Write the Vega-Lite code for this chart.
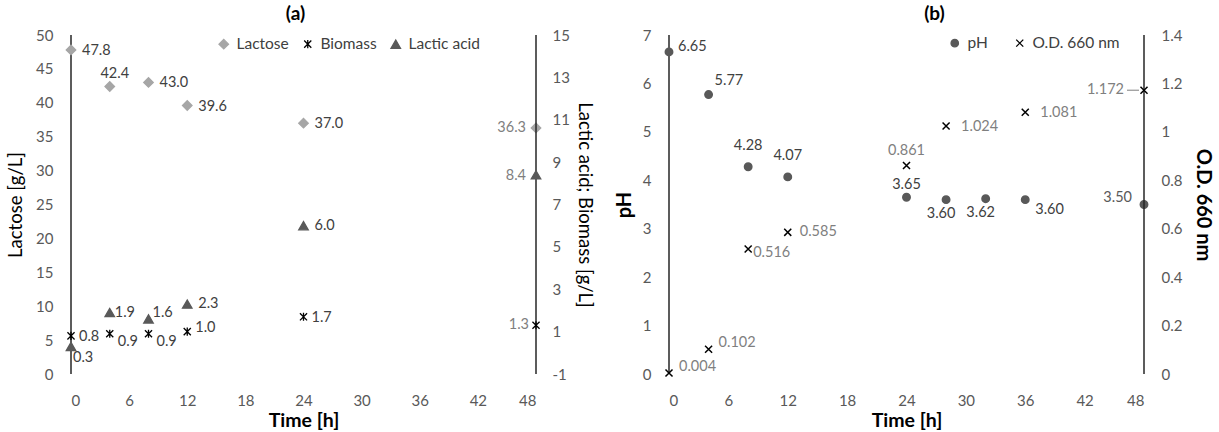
{
  "$schema": "https://vega.github.io/schema/vega-lite/v6.json",
  "background": "white",
  "padding": {"left": 6, "top": 5, "right": 5, "bottom": 2},
  "spacing": 20,
  "config": {
    "font": "Lato",
    "view": {"stroke": null},
    "axis": {"grid": false, "domain": false, "ticks": true, "tickOpacity": 0, "tickSize": 5, "labelFont": "Lato", "labelFontSize": 15, "labelColor": "#595959", "titleFont": "Lato", "titleFontSize": 20, "titleFontWeight": "bold", "titleColor": "#000000"},
    "axisX": {"labelPadding": 14, "titlePadding": 3, "titleFontSize": 19.5},
    "legend": {"labelFont": "Lato", "labelFontSize": 15.5, "labelColor": "#404040", "symbolStrokeWidth": 1.3, "padding": 0, "labelOffset": 5},
    "text": {"font": "Lato", "fontSize": 14.5, "color": "#404040"},
    "rule": {"color": "#262626", "strokeWidth": 1.5},
    "title": {"font": "Lato", "fontSize": 19, "fontWeight": "bold", "color": "#000000", "offset": 4}
  },
  "datasets": {
    "a": [
      {"time": 0, "series": "Lactose", "value": 47.8},
      {"time": 4, "series": "Lactose", "value": 42.4},
      {"time": 8, "series": "Lactose", "value": 43.0},
      {"time": 12, "series": "Lactose", "value": 39.6},
      {"time": 24, "series": "Lactose", "value": 37.0},
      {"time": 48, "series": "Lactose", "value": 36.3},
      {"time": 0, "series": "Biomass", "value": 0.8},
      {"time": 4, "series": "Biomass", "value": 0.9},
      {"time": 8, "series": "Biomass", "value": 0.9},
      {"time": 12, "series": "Biomass", "value": 1.0},
      {"time": 24, "series": "Biomass", "value": 1.7},
      {"time": 48, "series": "Biomass", "value": 1.3},
      {"time": 0, "series": "Lactic acid", "value": 0.3},
      {"time": 4, "series": "Lactic acid", "value": 1.9},
      {"time": 8, "series": "Lactic acid", "value": 1.6},
      {"time": 12, "series": "Lactic acid", "value": 2.3},
      {"time": 24, "series": "Lactic acid", "value": 6.0},
      {"time": 48, "series": "Lactic acid", "value": 8.4}
    ],
    "b": [
      {"time": 0, "series": "pH", "value": 6.65},
      {"time": 4, "series": "pH", "value": 5.77},
      {"time": 8, "series": "pH", "value": 4.28},
      {"time": 12, "series": "pH", "value": 4.07},
      {"time": 24, "series": "pH", "value": 3.65},
      {"time": 28, "series": "pH", "value": 3.60},
      {"time": 32, "series": "pH", "value": 3.62},
      {"time": 36, "series": "pH", "value": 3.60},
      {"time": 48, "series": "pH", "value": 3.50},
      {"time": 0, "series": "O.D. 660 nm", "value": 0.004},
      {"time": 4, "series": "O.D. 660 nm", "value": 0.102},
      {"time": 8, "series": "O.D. 660 nm", "value": 0.516},
      {"time": 12, "series": "O.D. 660 nm", "value": 0.585},
      {"time": 24, "series": "O.D. 660 nm", "value": 0.861},
      {"time": 28, "series": "O.D. 660 nm", "value": 1.024},
      {"time": 36, "series": "O.D. 660 nm", "value": 1.081},
      {"time": 48, "series": "O.D. 660 nm", "value": 1.172}
    ]
  },
  "resolve": {"scale": {"color": "independent", "stroke": "independent", "shape": "independent"}},
  "hconcat": [
    {
      "width": 465,
      "height": 339,
      "data": {"name": "a"},
      "title": {"text": "(a)", "dx": -8},
      "encoding": {
        "x": {"field": "time", "type": "quantitative", "scale": {"domain": [0, 48], "nice": false}, "axis": {"values": [0, 6, 12, 18, 24, 30, 36, 42, 48], "title": "Time [h]"}}
      },
      "layer": [
        {
          "encoding": {
            "y": {"field": "value", "type": "quantitative", "scale": {"domain": [0, 50], "nice": false, "zero": false}, "axis": {"orient": "left", "values": [0, 5, 10, 15, 20, 25, 30, 35, 40, 45, 50], "title": "Lactose [g/L]", "titleFontWeight": "normal", "titleFontSize": 18.5, "labelPadding": 13, "titlePadding": 10}}
          },
          "layer": [
            {
              "transform": [{"filter": {"and": [{"field": "series", "equal": "Lactose"}, {"field": "time", "equal": 0}]}}],
              "mark": {"type": "rule"},
              "encoding": {"x": {"datum": 0}, "y": {"datum": 0}, "y2": {"datum": 50}}
            },
            {
              "transform": [{"filter": {"field": "series", "equal": "Lactose"}}, {"aggregate": [{"op": "min", "field": "time", "as": "t0"}, {"op": "max", "field": "time", "as": "t1"}]}],
              "mark": {"type": "rule"},
              "encoding": {"x": {"field": "t0", "type": "quantitative", "title": "Time [h]"}, "x2": {"field": "t1"}, "y": {"datum": 0}}
            },
            {
              "transform": [{"filter": {"field": "series", "equal": "Lactose"}}],
              "mark": {"type": "point", "filled": true, "opacity": 1, "size": 90, "strokeWidth": 1.3},
              "encoding": {
                "color": {"field": "series", "type": "nominal", "scale": {"domain": ["Lactose", "Biomass", "Lactic acid"], "range": ["#a6a6a6", "#000000", "#595959"]}, "legend": {"orient": "none", "legendX": 145, "legendY": 1, "direction": "horizontal", "title": null, "columnPadding": 11, "symbolSize": 90}},
                "stroke": {"field": "series", "type": "nominal", "scale": {"domain": ["Lactose", "Biomass", "Lactic acid"], "range": ["#a6a6a6", "#000000", "#595959"]}, "legend": {"orient": "none", "legendX": 145, "legendY": 1, "direction": "horizontal", "title": null, "columnPadding": 11, "symbolSize": 90}},
                "shape": {"field": "series", "type": "nominal", "scale": {"domain": ["Lactose", "Biomass", "Lactic acid"], "range": ["diamond", "M-0.75,-0.75L0.75,0.75M-0.75,0.75L0.75,-0.75M0,-0.85L0,0.85", "triangle-up"]}, "legend": {"orient": "none", "legendX": 145, "legendY": 1, "direction": "horizontal", "title": null, "columnPadding": 11, "symbolSize": 90}}
              }
            },
            {
              "transform": [{"filter": {"and": [{"field": "series", "equal": "Lactose"}, {"field": "time", "oneOf": [0, 8, 12, 24]}]}}],
              "mark": {"type": "text", "align": "left", "dx": 11, "dy": 1},
              "encoding": {"text": {"field": "value", "type": "quantitative", "format": ".1f"}}
            },
            {
              "transform": [{"filter": {"and": [{"field": "series", "equal": "Lactose"}, {"field": "time", "oneOf": [4]}]}}],
              "mark": {"type": "text", "align": "center", "dx": 5, "dy": -13},
              "encoding": {"text": {"field": "value", "type": "quantitative", "format": ".1f"}}
            },
            {
              "transform": [{"filter": {"and": [{"field": "series", "equal": "Lactose"}, {"field": "time", "oneOf": [48]}]}}],
              "mark": {"type": "text", "align": "right", "dx": -10, "dy": 0, "color": "#7f7f7f"},
              "encoding": {"text": {"field": "value", "type": "quantitative", "format": ".1f"}}
            }
          ]
        },
        {
          "encoding": {
            "y": {"field": "value", "type": "quantitative", "scale": {"domain": [-1, 15], "nice": false, "zero": false}, "axis": {"orient": "right", "values": [-1, 1, 3, 5, 7, 9, 11, 13, 15], "title": "Lactic acid; Biomass [g/L]", "titleFontWeight": "normal", "titleFontSize": 18.5, "labelPadding": 11, "titlePadding": 5, "labelExpr": "datum.value < 0 ? '-' + format(-datum.value, 'd') : datum.label"}}
          },
          "layer": [
            {
              "transform": [{"filter": {"and": [{"field": "series", "equal": "Biomass"}, {"field": "time", "equal": 0}]}}],
              "mark": {"type": "rule"},
              "encoding": {"x": {"datum": 48}, "y": {"datum": -1}, "y2": {"datum": 15}}
            },
            {
              "transform": [{"filter": {"field": "series", "oneOf": ["Biomass", "Lactic acid"]}}],
              "mark": {"type": "point", "filled": true, "opacity": 1, "size": 90, "strokeWidth": 1.3},
              "encoding": {
                "color": {"field": "series", "type": "nominal", "scale": {"domain": ["Lactose", "Biomass", "Lactic acid"], "range": ["#a6a6a6", "#000000", "#595959"]}, "legend": {"orient": "none", "legendX": 145, "legendY": 1, "direction": "horizontal", "title": null, "columnPadding": 11, "symbolSize": 90}},
                "stroke": {"field": "series", "type": "nominal", "scale": {"domain": ["Lactose", "Biomass", "Lactic acid"], "range": ["#a6a6a6", "#000000", "#595959"]}, "legend": {"orient": "none", "legendX": 145, "legendY": 1, "direction": "horizontal", "title": null, "columnPadding": 11, "symbolSize": 90}},
                "shape": {"field": "series", "type": "nominal", "scale": {"domain": ["Lactose", "Biomass", "Lactic acid"], "range": ["diamond", "M-0.75,-0.75L0.75,0.75M-0.75,0.75L0.75,-0.75M0,-0.85L0,0.85", "triangle-up"]}, "legend": {"orient": "none", "legendX": 145, "legendY": 1, "direction": "horizontal", "title": null, "columnPadding": 11, "symbolSize": 90}}
              }
            },
            {
              "transform": [{"filter": {"and": [{"field": "series", "equal": "Biomass"}, {"field": "time", "oneOf": [0, 24]}]}}],
              "mark": {"type": "text", "align": "left", "dx": 8, "dy": 1},
              "encoding": {"text": {"field": "value", "type": "quantitative", "format": ".1f"}}
            },
            {
              "transform": [{"filter": {"and": [{"field": "series", "equal": "Biomass"}, {"field": "time", "oneOf": [4, 8]}]}}],
              "mark": {"type": "text", "align": "left", "dx": 8, "dy": 8},
              "encoding": {"text": {"field": "value", "type": "quantitative", "format": ".1f"}}
            },
            {
              "transform": [{"filter": {"and": [{"field": "series", "equal": "Biomass"}, {"field": "time", "oneOf": [12]}]}}],
              "mark": {"type": "text", "align": "left", "dx": 8, "dy": -4},
              "encoding": {"text": {"field": "value", "type": "quantitative", "format": ".1f"}}
            },
            {
              "transform": [{"filter": {"and": [{"field": "series", "equal": "Biomass"}, {"field": "time", "oneOf": [48]}]}}],
              "mark": {"type": "text", "align": "right", "dx": -7, "dy": 0, "color": "#7f7f7f"},
              "encoding": {"text": {"field": "value", "type": "quantitative", "format": ".1f"}}
            },
            {
              "transform": [{"filter": {"and": [{"field": "series", "equal": "Lactic acid"}, {"field": "time", "oneOf": [0]}]}}],
              "mark": {"type": "text", "align": "left", "dx": 2, "dy": 12},
              "encoding": {"text": {"field": "value", "type": "quantitative", "format": ".1f"}}
            },
            {
              "transform": [{"filter": {"and": [{"field": "series", "equal": "Lactic acid"}, {"field": "time", "oneOf": [4]}]}}],
              "mark": {"type": "text", "align": "left", "dx": 5, "dy": 0},
              "encoding": {"text": {"field": "value", "type": "quantitative", "format": ".1f"}}
            },
            {
              "transform": [{"filter": {"and": [{"field": "series", "equal": "Lactic acid"}, {"field": "time", "oneOf": [8]}]}}],
              "mark": {"type": "text", "align": "left", "dx": 4, "dy": -6},
              "encoding": {"text": {"field": "value", "type": "quantitative", "format": ".1f"}}
            },
            {
              "transform": [{"filter": {"and": [{"field": "series", "equal": "Lactic acid"}, {"field": "time", "oneOf": [12, 24]}]}}],
              "mark": {"type": "text", "align": "left", "dx": 11, "dy": 0},
              "encoding": {"text": {"field": "value", "type": "quantitative", "format": ".1f"}}
            },
            {
              "transform": [{"filter": {"and": [{"field": "series", "equal": "Lactic acid"}, {"field": "time", "oneOf": [48]}]}}],
              "mark": {"type": "text", "align": "right", "dx": -10, "dy": 1, "color": "#7f7f7f"},
              "encoding": {"text": {"field": "value", "type": "quantitative", "format": ".1f"}}
            }
          ]
        }
      ],
      "resolve": {"scale": {"y": "independent"}}
    },
    {
      "width": 475,
      "height": 339,
      "data": {"name": "b"},
      "title": {"text": "(b)", "dx": 28},
      "encoding": {
        "x": {"field": "time", "type": "quantitative", "scale": {"domain": [0, 48], "nice": false}, "axis": {"values": [0, 6, 12, 18, 24, 30, 36, 42, 48], "title": "Time [h]"}}
      },
      "layer": [
        {
          "encoding": {
            "y": {"field": "value", "type": "quantitative", "scale": {"domain": [0, 7], "nice": false}, "axis": {"orient": "left", "values": [0, 1, 2, 3, 4, 5, 6, 7], "title": "pH", "titlePadding": 8, "labelPadding": 13}}
          },
          "layer": [
            {
              "transform": [{"filter": {"and": [{"field": "series", "equal": "pH"}, {"field": "time", "equal": 0}]}}],
              "mark": {"type": "rule"},
              "encoding": {"x": {"datum": 0}, "y": {"datum": 0}, "y2": {"datum": 7}}
            },
            {
              "transform": [{"filter": {"field": "series", "equal": "pH"}}, {"aggregate": [{"op": "min", "field": "time", "as": "t0"}, {"op": "max", "field": "time", "as": "t1"}]}],
              "mark": {"type": "rule"},
              "encoding": {"x": {"field": "t0", "type": "quantitative", "title": "Time [h]"}, "x2": {"field": "t1"}, "y": {"datum": 0}}
            },
            {
              "transform": [{"filter": {"field": "series", "equal": "pH"}}],
              "mark": {"type": "point", "filled": true, "opacity": 1, "size": 55, "strokeWidth": 1.5},
              "encoding": {
                "color": {"field": "series", "type": "nominal", "scale": {"domain": ["pH", "O.D. 660 nm"], "range": ["#595959", "#000000"]}, "legend": {"orient": "none", "legendX": 278, "legendY": 0, "direction": "horizontal", "title": null, "columnPadding": 24, "symbolSize": 55}},
                "stroke": {"field": "series", "type": "nominal", "scale": {"domain": ["pH", "O.D. 660 nm"], "range": ["#595959", "#000000"]}, "legend": {"orient": "none", "legendX": 278, "legendY": 0, "direction": "horizontal", "title": null, "columnPadding": 24, "symbolSize": 55}},
                "shape": {"field": "series", "type": "nominal", "scale": {"domain": ["pH", "O.D. 660 nm"], "range": ["circle", "M-0.95,-0.95L0.95,0.95M-0.95,0.95L0.95,-0.95"]}, "legend": {"orient": "none", "legendX": 278, "legendY": 0, "direction": "horizontal", "title": null, "columnPadding": 24, "symbolSize": 55}}
              }
            },
            {
              "transform": [{"filter": {"and": [{"field": "series", "equal": "pH"}, {"field": "time", "oneOf": [0]}]}}],
              "mark": {"type": "text", "align": "left", "dx": 9, "dy": -5},
              "encoding": {"text": {"field": "value", "type": "quantitative", "format": ".2f"}}
            },
            {
              "transform": [{"filter": {"and": [{"field": "series", "equal": "pH"}, {"field": "time", "oneOf": [4]}]}}],
              "mark": {"type": "text", "align": "left", "dx": 6, "dy": -14},
              "encoding": {"text": {"field": "value", "type": "quantitative", "format": ".2f"}}
            },
            {
              "transform": [{"filter": {"and": [{"field": "series", "equal": "pH"}, {"field": "time", "oneOf": [8, 12]}]}}],
              "mark": {"type": "text", "align": "center", "dx": 0, "dy": -21},
              "encoding": {"text": {"field": "value", "type": "quantitative", "format": ".2f"}}
            },
            {
              "transform": [{"filter": {"and": [{"field": "series", "equal": "pH"}, {"field": "time", "oneOf": [24]}]}}],
              "mark": {"type": "text", "align": "center", "dx": 0, "dy": -12},
              "encoding": {"text": {"field": "value", "type": "quantitative", "format": ".2f"}}
            },
            {
              "transform": [{"filter": {"and": [{"field": "series", "equal": "pH"}, {"field": "time", "oneOf": [28, 32]}]}}],
              "mark": {"type": "text", "align": "center", "dx": -5, "dy": 14},
              "encoding": {"text": {"field": "value", "type": "quantitative", "format": ".2f"}}
            },
            {
              "transform": [{"filter": {"and": [{"field": "series", "equal": "pH"}, {"field": "time", "oneOf": [36]}]}}],
              "mark": {"type": "text", "align": "left", "dx": 10, "dy": 10},
              "encoding": {"text": {"field": "value", "type": "quantitative", "format": ".2f"}}
            },
            {
              "transform": [{"filter": {"and": [{"field": "series", "equal": "pH"}, {"field": "time", "oneOf": [48]}]}}],
              "mark": {"type": "text", "align": "right", "dx": -12, "dy": -7, "color": "#595959"},
              "encoding": {"text": {"field": "value", "type": "quantitative", "format": ".2f"}}
            }
          ]
        },
        {
          "encoding": {
            "y": {"field": "value", "type": "quantitative", "scale": {"domain": [0, 1.4], "nice": false}, "axis": {"orient": "right", "values": [0, 0.2, 0.4, 0.6, 0.8, 1, 1.2, 1.4], "format": "~g", "title": "O.D. 660 nm", "titlePadding": 11, "labelPadding": 12}}
          },
          "layer": [
            {
              "transform": [{"filter": {"and": [{"field": "series", "equal": "O.D. 660 nm"}, {"field": "time", "equal": 0}]}}],
              "mark": {"type": "rule"},
              "encoding": {"x": {"datum": 48}, "y": {"datum": 0}, "y2": {"datum": 1.4}}
            },
            {
              "transform": [{"filter": {"and": [{"field": "series", "equal": "O.D. 660 nm"}, {"field": "time", "equal": 48}]}}],
              "mark": {"type": "rule", "color": "#7f7f7f", "strokeWidth": 1, "xOffset": -17, "x2Offset": -5},
              "encoding": {"x2": {"field": "time"}}
            },
            {
              "transform": [{"filter": {"field": "series", "equal": "O.D. 660 nm"}}],
              "mark": {"type": "point", "filled": true, "opacity": 1, "size": 55, "strokeWidth": 1.5},
              "encoding": {
                "color": {"field": "series", "type": "nominal", "scale": {"domain": ["pH", "O.D. 660 nm"], "range": ["#595959", "#000000"]}, "legend": {"orient": "none", "legendX": 278, "legendY": 0, "direction": "horizontal", "title": null, "columnPadding": 24, "symbolSize": 55}},
                "stroke": {"field": "series", "type": "nominal", "scale": {"domain": ["pH", "O.D. 660 nm"], "range": ["#595959", "#000000"]}, "legend": {"orient": "none", "legendX": 278, "legendY": 0, "direction": "horizontal", "title": null, "columnPadding": 24, "symbolSize": 55}},
                "shape": {"field": "series", "type": "nominal", "scale": {"domain": ["pH", "O.D. 660 nm"], "range": ["circle", "M-0.95,-0.95L0.95,0.95M-0.95,0.95L0.95,-0.95"]}, "legend": {"orient": "none", "legendX": 278, "legendY": 0, "direction": "horizontal", "title": null, "columnPadding": 24, "symbolSize": 55}}
              }
            },
            {
              "transform": [{"filter": {"and": [{"field": "series", "equal": "O.D. 660 nm"}, {"field": "time", "oneOf": [0, 4]}]}}],
              "mark": {"type": "text", "align": "left", "dx": 10, "dy": -6, "color": "#7f7f7f"},
              "encoding": {"text": {"field": "value", "type": "quantitative", "format": ".3f"}}
            },
            {
              "transform": [{"filter": {"and": [{"field": "series", "equal": "O.D. 660 nm"}, {"field": "time", "oneOf": [8]}]}}],
              "mark": {"type": "text", "align": "left", "dx": 5, "dy": 4, "color": "#7f7f7f"},
              "encoding": {"text": {"field": "value", "type": "quantitative", "format": ".3f"}}
            },
            {
              "transform": [{"filter": {"and": [{"field": "series", "equal": "O.D. 660 nm"}, {"field": "time", "oneOf": [12]}]}}],
              "mark": {"type": "text", "align": "left", "dx": 12, "dy": 0, "color": "#7f7f7f"},
              "encoding": {"text": {"field": "value", "type": "quantitative", "format": ".3f"}}
            },
            {
              "transform": [{"filter": {"and": [{"field": "series", "equal": "O.D. 660 nm"}, {"field": "time", "oneOf": [24]}]}}],
              "mark": {"type": "text", "align": "center", "dx": 0, "dy": -15, "color": "#7f7f7f"},
              "encoding": {"text": {"field": "value", "type": "quantitative", "format": ".3f"}}
            },
            {
              "transform": [{"filter": {"and": [{"field": "series", "equal": "O.D. 660 nm"}, {"field": "time", "oneOf": [28, 36]}]}}],
              "mark": {"type": "text", "align": "left", "dx": 15, "dy": 1, "color": "#7f7f7f"},
              "encoding": {"text": {"field": "value", "type": "quantitative", "format": ".3f"}}
            },
            {
              "transform": [{"filter": {"and": [{"field": "series", "equal": "O.D. 660 nm"}, {"field": "time", "oneOf": [48]}]}}],
              "mark": {"type": "text", "align": "right", "dx": -20, "dy": 0, "color": "#7f7f7f"},
              "encoding": {"text": {"field": "value", "type": "quantitative", "format": ".3f"}}
            }
          ]
        }
      ],
      "resolve": {"scale": {"y": "independent"}}
    }
  ]
}
